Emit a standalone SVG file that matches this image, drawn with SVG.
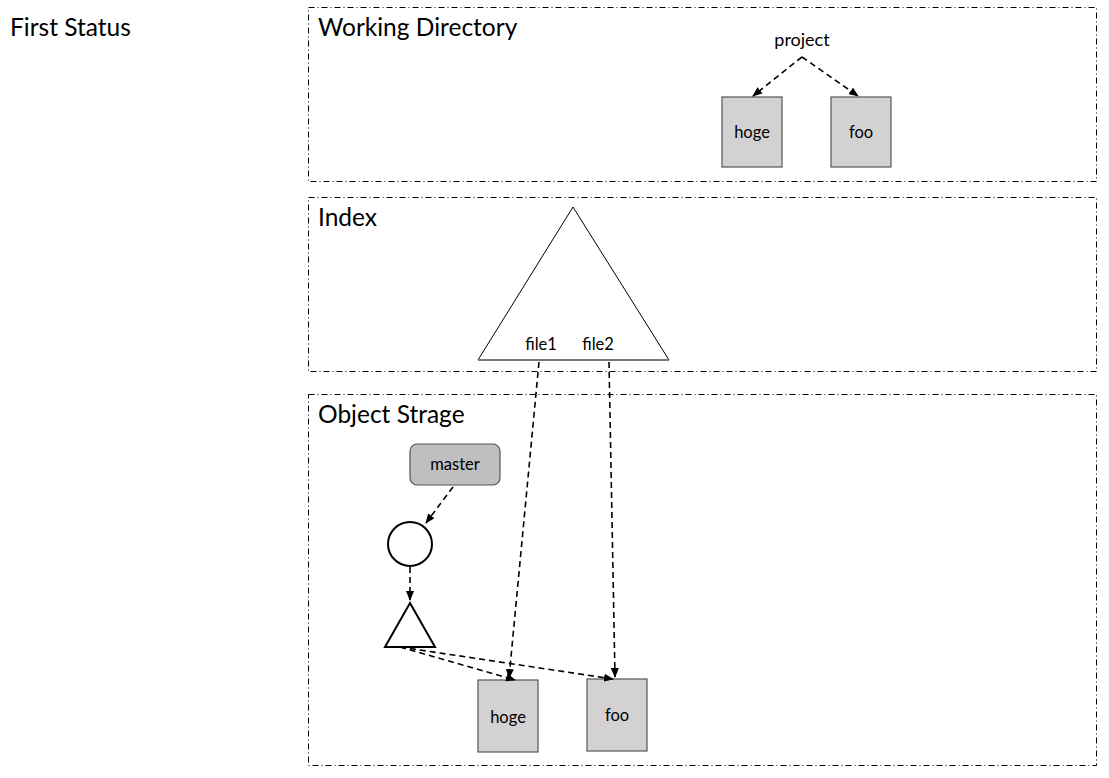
<svg xmlns="http://www.w3.org/2000/svg" width="1109" height="778" viewBox="0 0 1109 778">
<defs>
<marker id="ah" markerWidth="10" markerHeight="8" refX="9" refY="4" orient="auto" markerUnits="userSpaceOnUse">
<path d="M0,0 L10,4 L0,8 Z" fill="#000"/>
</marker>
<style>
.frame{fill:none;stroke:#000;stroke-width:1;stroke-dasharray:6,3,1,3}
.title{font-family:Lato,"Liberation Sans",sans-serif;font-size:24.5px;fill:#000}
.lbl{font-family:Lato,"Liberation Sans",sans-serif;font-size:16.5px;fill:#000}
.file{fill:#d3d1d2;stroke:#555;stroke-width:1.2}
.conn{fill:none;stroke:#000;stroke-width:1.6;stroke-dasharray:6,4;marker-end:url(#ah)}
</style>
</defs>
<rect width="1109" height="778" fill="#fff"/>
<text class="title" x="10" y="36">First Status</text>
<g id="working-directory">
<rect class="frame" x="308.5" y="7.5" width="788" height="174"/>
<text class="title" x="318" y="36">Working Directory</text>
</g>
<g id="index">
<rect class="frame" x="308.5" y="197.5" width="788" height="174"/>
<text class="title" x="318" y="226">Index</text>
</g>
<g id="object-strage">
<rect class="frame" x="308.5" y="394.5" width="788" height="371"/>
<text class="title" x="318" y="423">Object Strage</text>
</g>
<g id="project"><text class="lbl" x="802" y="46" text-anchor="middle" style="font-size:18px">project</text></g>
<g id="wd-hoge"><rect class="file" x="722" y="97" width="60" height="70"/><text class="lbl" x="752" y="138" text-anchor="middle">hoge</text></g>
<g id="wd-foo"><rect class="file" x="831" y="97" width="60" height="70"/><text class="lbl" x="861" y="138" text-anchor="middle">foo</text></g>
<g id="index-tree">
<path d="M573,207 L669,360 L478,360 Z" fill="#fff" stroke="#000" stroke-width="1"/>
<line x1="478" y1="360" x2="669" y2="360" stroke="#777" stroke-width="1.5"/>
<text class="lbl" x="541" y="350" text-anchor="middle">file1</text>
<text class="lbl" x="598" y="350" text-anchor="middle">file2</text>
</g>
<g id="master"><rect x="410" y="444" width="90" height="41" rx="7" fill="#c0bfc0" stroke="#555" stroke-width="1.2"/><text class="lbl" x="455" y="470" text-anchor="middle">master</text></g>
<g id="commit"><circle cx="410" cy="544" r="22" fill="#fff" stroke="#000" stroke-width="2"/></g>
<g id="tree"><path d="M410,603 L435,647 L385,647 Z" fill="#fff" stroke="#000" stroke-width="2"/></g>
<g id="os-hoge"><rect class="file" x="478" y="680" width="60" height="72"/><text class="lbl" x="508" y="723" text-anchor="middle">hoge</text></g>
<g id="os-foo"><rect class="file" x="587" y="679" width="60" height="72"/><text class="lbl" x="617" y="721" text-anchor="middle">foo</text></g>
<g id="connectors">
<line class="conn" x1="802" y1="57" x2="753" y2="96"/>
<line class="conn" x1="802" y1="57" x2="858" y2="96"/>
<line class="conn" x1="453" y1="487" x2="426" y2="523"/>
<line class="conn" x1="410" y1="567" x2="410" y2="600"/>
<line class="conn" x1="400" y1="647" x2="515" y2="680"/>
<line class="conn" x1="400" y1="647" x2="613" y2="679"/>
<line class="conn" x1="539" y1="362" x2="509" y2="678"/>
<line class="conn" x1="609" y1="362" x2="615" y2="677"/>
</g>
</svg>
